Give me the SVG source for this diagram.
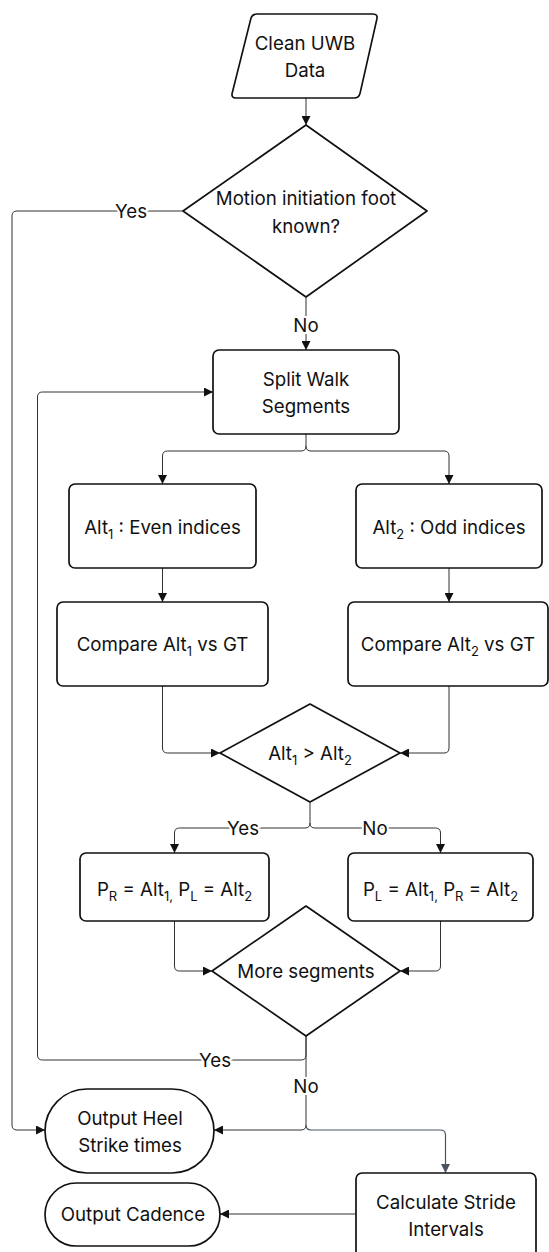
<svg xmlns="http://www.w3.org/2000/svg" width="549" height="1252" viewBox="0 0 549 1252">
<defs>
<style>
text{font-family:Inter,"Noto Sans","Liberation Sans",sans-serif;font-size:18.7px;fill:#111;text-anchor:middle;white-space:pre}
.node{fill:#fff;stroke:#111;stroke-width:1.7;stroke-linejoin:round}
.edge{fill:none;stroke:#333;stroke-width:1}
.edge2{fill:none;stroke:#4a5260;stroke-width:1.2}
.lbl{stroke:#fff;stroke-width:4;paint-order:stroke}
.sub{font-size:13px}
</style>
<marker id="arr" viewBox="0 0 10 10" refX="10" refY="5" markerWidth="10" markerHeight="9" markerUnits="userSpaceOnUse" orient="auto">
<path d="M0,0 L10,5 L0,10 Z" fill="#111"/>
</marker>
<marker id="arr2" viewBox="0 0 10 10" refX="10" refY="5" markerWidth="10" markerHeight="9" markerUnits="userSpaceOnUse" orient="auto">
<path d="M0,0 L10,5 L0,10 Z" fill="#4a5260"/>
</marker>
</defs>

<g id="connectors">
<path class="edge" d="M306,98 L306,125" marker-end="url(#arr)"/>
<path class="edge" d="M183,211 L17,211 Q12,211 12,216 L12,1125 Q12,1130 17,1130 L45,1130" marker-end="url(#arr)"/>
<path class="edge" d="M306,297 L306,350" marker-end="url(#arr)"/>
<path class="edge" d="M306,434 L306,446 Q306,451 301,451 L167.5,451 Q162.5,451 162.5,456 L162.5,484" marker-end="url(#arr)"/>
<path class="edge" d="M306,446 Q306,451 311,451 L444,451 Q449,451 449,456 L449,484" marker-end="url(#arr)"/>
<path class="edge" d="M162.5,568 L162.5,602" marker-end="url(#arr)"/>
<path class="edge" d="M449,568 L449,602" marker-end="url(#arr)"/>
<path class="edge" d="M162.5,686 L162.5,748 Q162.5,753 167.5,753 L220,753" marker-end="url(#arr)"/>
<path class="edge" d="M449,686 L449,748 Q449,753 444,753 L400,753" marker-end="url(#arr)"/>
<path class="edge" d="M310,802 L310,823 Q310,828 305,828 L179.5,828 Q174.5,828 174.5,833 L174.5,853" marker-end="url(#arr)"/>
<path class="edge" d="M310,823 Q310,828 315,828 L435.5,828 Q440.5,828 440.5,833 L440.5,853" marker-end="url(#arr)"/>
<path class="edge" d="M174.5,921 L174.5,966 Q174.5,971 179.5,971 L212,971" marker-end="url(#arr)"/>
<path class="edge" d="M440.5,921 L440.5,966 Q440.5,971 435.5,971 L400,971" marker-end="url(#arr)"/>
<path class="edge" d="M306,1036 L306,1055 Q306,1060 301,1060 L42.5,1060 Q37.5,1060 37.5,1055 L37.5,397 Q37.5,392 42.5,392 L213,392" marker-end="url(#arr)"/>
<path class="edge" d="M306,1036 L306,1125 Q306,1130 301,1130 L214,1130" marker-end="url(#arr)"/>
<path class="edge2" d="M306,1125 Q306,1130 311,1130 L440.5,1130 Q445.5,1130 445.5,1135 L445.5,1173" marker-end="url(#arr2)"/>
<path class="edge" d="M356,1214 L220,1214" marker-end="url(#arr)"/>
<text class="lbl" x="131" y="218">Yes</text>
<text class="lbl" x="306" y="332">No</text>
<text class="lbl" x="243" y="835">Yes</text>
<text class="lbl" x="375" y="835">No</text>
<text class="lbl" x="215" y="1067">Yes</text>
<text class="lbl" x="306" y="1093">No</text>
</g>

<g id="clean-uwb-data">
<path class="node" d="M257,14 L373,14 Q378,14 376.9,18.9 L360.1,93.1 Q359,98 354,98 L236,98 Q231,98 232.2,93.1 L250.8,18.9 Q252,14 257,14 Z"/>
<text x="305" y="50">Clean UWB</text>
<text x="305" y="77">Data</text>
</g>

<g id="motion-known">
<path class="node" d="M306,125 L427,211 L306,297 L183,211 Z"/>
<text x="306" y="205">Motion initiation foot</text>
<text x="306" y="233">known?</text>
</g>

<g id="split-walk">
<rect class="node" x="213" y="350" width="186" height="84" rx="6"/>
<text x="306" y="386">Split Walk</text>
<text x="306" y="413">Segments</text>
</g>

<g id="alt1-even">
<rect class="node" x="69" y="484" width="187" height="84" rx="6"/>
<text x="162.5" y="534">Alt<tspan class="sub" dy="4.5">1</tspan><tspan dy="-4.5"> : Even indices</tspan></text>
</g>

<g id="alt2-odd">
<rect class="node" x="356" y="484" width="186" height="84" rx="6"/>
<text x="449" y="534">Alt<tspan class="sub" dy="4.5">2</tspan><tspan dy="-4.5"> : Odd indices</tspan></text>
</g>

<g id="compare-alt1">
<rect class="node" x="57" y="602" width="211" height="84" rx="6"/>
<text x="162.5" y="651">Compare Alt<tspan class="sub" dy="4.5">1</tspan><tspan dy="-4.5"> vs GT</tspan></text>
</g>

<g id="compare-alt2">
<rect class="node" x="348" y="602" width="200" height="84" rx="6"/>
<text x="448" y="651">Compare Alt<tspan class="sub" dy="4.5">2</tspan><tspan dy="-4.5"> vs GT</tspan></text>
</g>

<g id="alt1-gt-alt2">
<path class="node" d="M310,704 L400,753 L310,802 L220,753 Z"/>
<text x="310" y="760">Alt<tspan class="sub" dy="4.5">1</tspan><tspan dy="-4.5"> &gt; Alt</tspan><tspan class="sub" dy="4.5">2</tspan></text>
</g>

<g id="pr-alt1">
<rect class="node" x="80" y="853" width="189" height="68" rx="6"/>
<text x="174.5" y="896">P<tspan class="sub" dy="4.5">R</tspan><tspan dy="-4.5"> = Alt</tspan><tspan class="sub" dy="4.5">1,</tspan><tspan dy="-4.5"> P</tspan><tspan class="sub" dy="4.5">L</tspan><tspan dy="-4.5"> = Alt</tspan><tspan class="sub" dy="4.5">2</tspan></text>
</g>

<g id="pl-alt1">
<rect class="node" x="348" y="853" width="185" height="68" rx="6"/>
<text x="440.5" y="896">P<tspan class="sub" dy="4.5">L</tspan><tspan dy="-4.5"> = Alt</tspan><tspan class="sub" dy="4.5">1,</tspan><tspan dy="-4.5"> P</tspan><tspan class="sub" dy="4.5">R</tspan><tspan dy="-4.5"> = Alt</tspan><tspan class="sub" dy="4.5">2</tspan></text>
</g>

<g id="more-segments">
<path class="node" d="M306,906 L400,971 L306,1036 L212,971 Z"/>
<text x="306" y="978">More segments</text>
</g>

<g id="output-heel">
<rect class="node" x="45" y="1089" width="169" height="84" rx="42"/>
<text x="130" y="1125">Output Heel</text>
<text x="130" y="1152">Strike times</text>
</g>

<g id="output-cadence">
<rect class="node" x="45" y="1183" width="175" height="63" rx="31.5"/>
<text x="133" y="1221">Output Cadence</text>
</g>

<g id="calc-stride">
<rect class="node" x="356" y="1173" width="180" height="86" rx="6"/>
<text x="446" y="1209">Calculate Stride</text>
<text x="446" y="1236">Intervals</text>
</g>
</svg>
